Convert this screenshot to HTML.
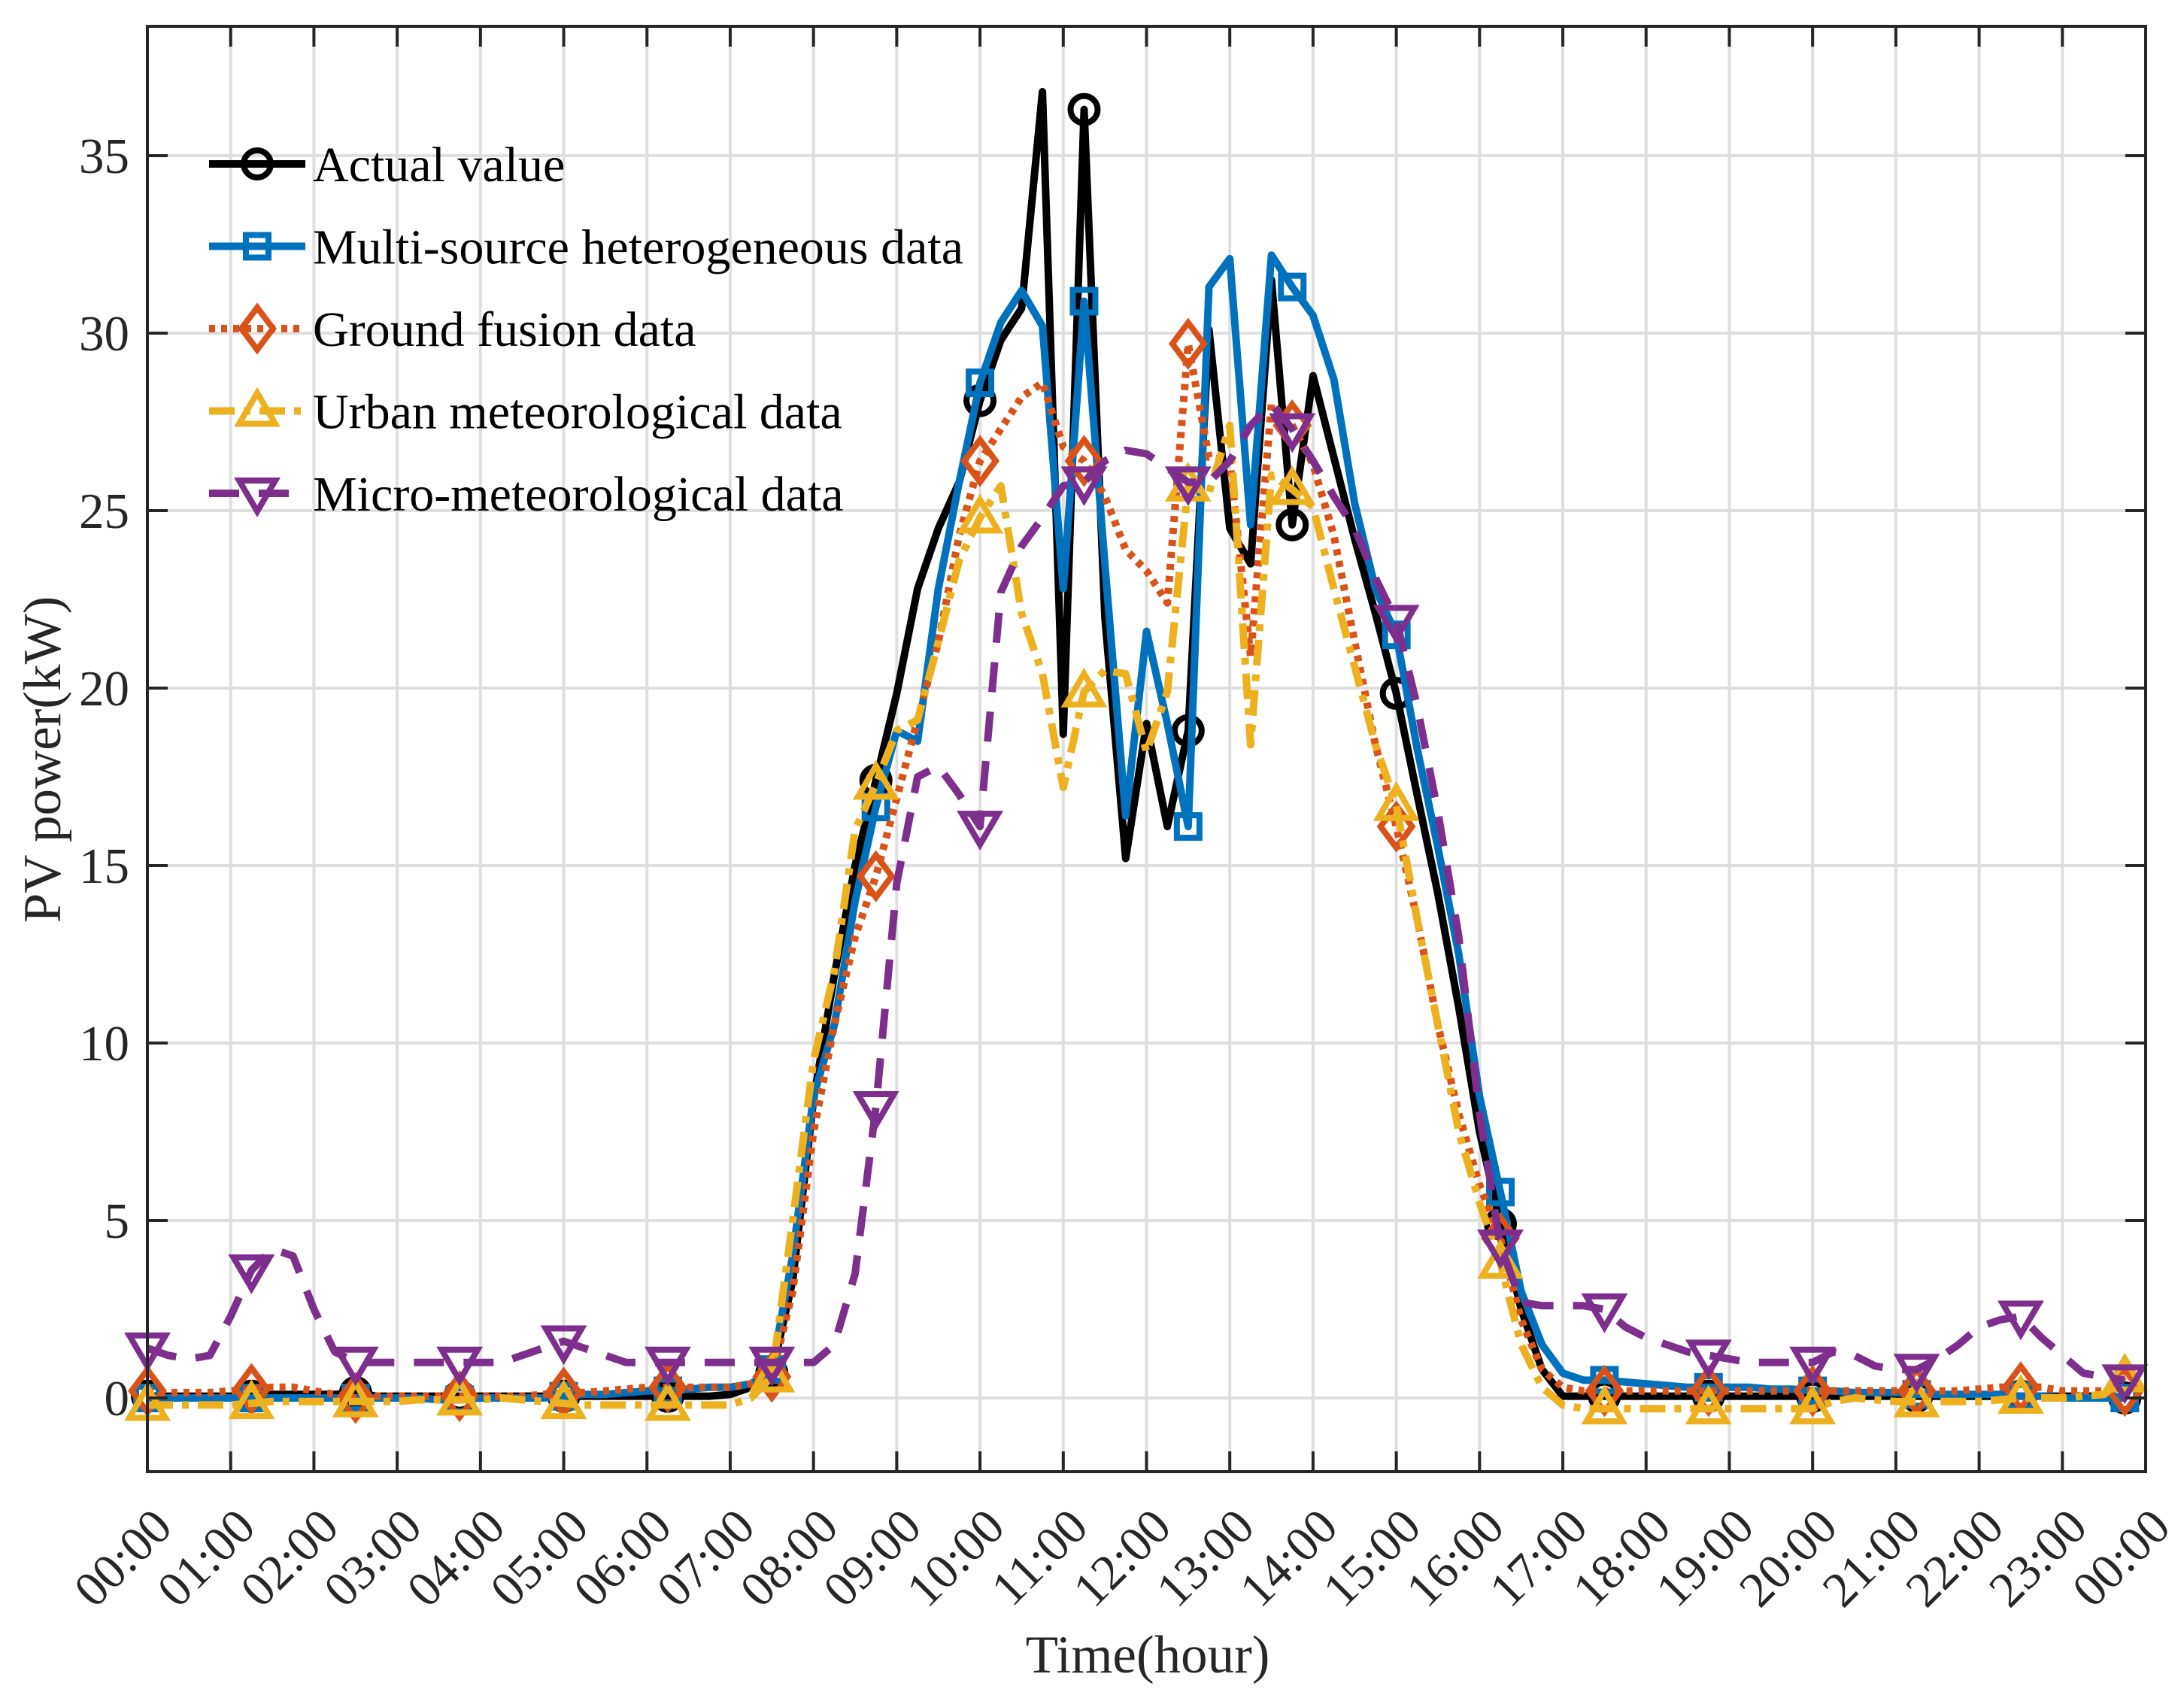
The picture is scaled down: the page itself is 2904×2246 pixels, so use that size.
<!DOCTYPE html>
<html><head><meta charset="utf-8"><style>html,body{margin:0;padding:0;background:#fff}svg{display:block}</style></head>
<body>
<svg id="chart" xmlns="http://www.w3.org/2000/svg" width="2904" height="2246" viewBox="0 0 2904 2246" font-family="'Liberation Serif', serif">
<rect x="0" y="0" width="2904" height="2246" fill="#fff"/>
<g id="grid"></g>
<g id="series"></g>
<g id="axes"></g>
<text x="0" y="0" transform="translate(80,1010) rotate(-90)" text-anchor="middle" font-size="71" fill="#262626">PV power(kW)</text>
<text x="1526" y="2224" text-anchor="middle" font-size="71" fill="#262626">Time(hour)</text>
<g id="legend"></g>
</svg>
<script>
const times = Array.from({length:96},(_,i)=>i*0.25);
const actualValue = [0.05,0.05,0.05,0.05,0.05,0.05,0.1,0.1,0.1,0.1,0.15,0.05,0.05,0.05,0.05,0.05,0.05,0.05,0.05,0.05,0.05,0.05,0.05,0.05,0.05,0.05,0.05,0.05,0.1,0.3,0.7,3.3,8.4,11.9,15,17.4,19.85,22.8,24.5,25.8,28.1,29.8,30.7,36.8,18.7,36.3,22,15.2,19.0,16.1,18.8,30.1,24.5,23.5,31.5,24.6,28.8,26.5,24.2,22.1,19.85,17,14.2,11,7.5,4.9,2.5,0.8,0.05,0.05,0.05,0.05,0.05,0.05,0.05,0.05,0.05,0.05,0.05,0.05,0.05,0.05,0.05,0.05,0.05,0.05,0.05,0.05,0.05,0.05,0.05,0.05,0.05,0.05,0.05,0.0];
const multiSource = [0,0,0,0,0,0,0,0,0,0,0,0,0,0,-0.05,-0.05,0,0,0,0,0.05,0.1,0.1,0.15,0.2,0.2,0.25,0.3,0.3,0.4,0.8,4.0,8.5,10.5,14,16.65,18.8,18.5,22.8,25.8,28.6,30.3,31.2,30.2,22.8,30.9,23.5,16.4,21.6,19.0,16.1,31.3,32.1,24.6,32.2,31.3,30.5,28.7,25.2,22.8,21.5,18.3,15.5,12.5,8.5,5.8,3,1.5,0.7,0.5,0.5,0.45,0.4,0.35,0.3,0.3,0.3,0.3,0.25,0.25,0.2,0.2,0.15,0.15,0.15,0.1,0.1,0.1,0.1,0.1,0.05,0.05,0,0,0,0];
const groundFusion = [0.2,0.15,0.15,0.15,0.2,0.25,0.3,0.3,0.2,0.1,0.0,0.05,0.05,0.05,0.05,0.05,0.05,0.05,0.05,0.1,0.15,0.15,0.2,0.25,0.3,0.3,0.3,0.3,0.3,0.4,0.6,3.0,7.5,10.5,13,14.7,16.9,19.1,21.3,24.3,26.4,27.3,28.2,28.6,26.8,26.4,25.4,23.9,23.3,22.4,29.7,26.5,26.4,20.9,28.0,27.4,26.3,24.3,21.3,18.4,16.1,13.5,10.5,8,6,4.5,2.2,0.8,0.3,0.2,0.2,0.2,0.2,0.2,0.2,0.2,0.2,0.2,0.2,0.2,0.2,0.2,0.2,0.2,0.2,0.2,0.2,0.2,0.25,0.3,0.3,0.3,0.2,0.2,0.2,0.2];
const urbanMet = [-0.2,-0.2,-0.2,-0.2,-0.2,-0.15,-0.1,-0.1,-0.1,-0.1,-0.1,-0.1,-0.1,-0.05,-0.05,-0.05,-0.05,0,-0.05,-0.1,-0.15,-0.2,-0.2,-0.2,-0.2,-0.2,-0.2,-0.2,-0.2,0.0,0.6,5,9.5,12,16,17.3,18.8,19.1,21.3,23.6,24.8,25.7,22.1,20.4,17.2,19.9,20.5,20.4,18.2,19.9,25.7,25.5,27.4,18.4,26.0,25.6,25.1,22.8,20.6,18.4,16.7,13.5,10.5,7.5,5.5,3.8,1.5,0.3,-0.2,-0.3,-0.3,-0.3,-0.3,-0.3,-0.3,-0.3,-0.3,-0.3,-0.3,-0.3,-0.3,-0.1,0,-0.05,-0.1,-0.1,-0.1,-0.1,-0.1,-0.05,0,0,0,0.05,0.1,0.6];
const microMet = [1.4,1.2,1.1,1.2,2.3,3.6,4.2,4.0,2.5,1.3,1.0,1.0,1.0,1.0,1.0,1.0,1.0,1.0,1.2,1.4,1.6,1.4,1.2,1.0,1.0,1.0,1.0,1.0,1.0,1.0,1.0,1.0,1.0,1.5,3.5,8.2,14.5,17.5,17.8,17.0,16.1,22.7,24.0,24.8,25.7,25.8,26.4,26.7,26.6,26.2,25.8,25.8,26.4,27.4,28.0,27.3,26.4,25.4,24.5,23.1,21.9,19.5,16.5,13,8,4.3,2.7,2.6,2.6,2.6,2.5,2.0,1.7,1.5,1.3,1.2,1.1,1.0,1.0,1.0,1.0,1.3,1.2,0.9,0.8,0.8,1.1,1.5,2.0,2.2,2.3,1.7,1.2,0.7,0.6,0.5];
const yTicks = [0,5,10,15,20,25,30,35];
const xTickLabels = ["00:00","01:00","02:00","03:00","04:00","05:00","06:00","07:00","08:00","09:00","10:00","11:00","12:00","13:00","14:00","15:00","16:00","17:00","18:00","19:00","20:00","21:00","22:00","23:00","00:00"];
const seriesNames = ["Actual value","Multi-source heterogeneous data","Ground fusion data","Urban meteorological data","Micro-meteorological data"];

const NS="http://www.w3.org/2000/svg";
const L=196,R=2853,T=35,B=1957;
const xs=t=>L+t*(R-L)/24;
const ys=v=>1859-v*47.2;
function mk(tag,parent,attrs){const e=document.createElementNS(NS,tag);for(const k in attrs)e.setAttribute(k,attrs[k]);parent.appendChild(e);return e;}
const grid=document.getElementById('grid'),axes=document.getElementById('axes'),ser=document.getElementById('series'),leg=document.getElementById('legend');
xTickLabels.forEach((lab,i)=>{
  const x=xs(i);
  if(i>0&&i<24){const g=mk('line',grid,{x1:x,x2:x,y1:T,y2:B,stroke:'#dfdfdf','stroke-width':4});
  
  }
  const t1=mk('line',axes,{x1:x,x2:x,y1:B,y2:B-27,stroke:'#262626','stroke-width':4});
  
  
  const t2=mk('line',axes,{x1:x,x2:x,y1:T,y2:T+27,stroke:'#262626','stroke-width':4});
  
  
  const tx=mk('text',axes,{x:0,y:0,transform:`translate(${x+36},2034) rotate(-45)`,'text-anchor':'end','font-size':66,fill:'#262626'});
  tx.textContent=lab;
  
  
});
yTicks.forEach(v=>{
  const y=ys(v);
  const g=mk('line',grid,{x1:L,x2:R,y1:y,y2:y,stroke:'#dfdfdf','stroke-width':4});
  
  
  const t1=mk('line',axes,{x1:L,x2:L+27,y1:y,y2:y,stroke:'#262626','stroke-width':4});
  
  
  const t2=mk('line',axes,{x1:R,x2:R-27,y1:y,y2:y,stroke:'#262626','stroke-width':4});
  
  
  const tx=mk('text',axes,{x:172,y:y+23,'text-anchor':'end','font-size':67,fill:'#262626'});
  tx.textContent=v;
  
  
});
const box=mk('rect',axes,{x:L,y:T,width:R-L,height:B-T,fill:'none',stroke:'#262626','stroke-width':4});



const styles=[
 {c:'#000000',d:'',m:'circle'},
 {c:'#0072BD',d:'',m:'square'},
 {c:'#D95319',d:'8 8',m:'diamond'},
 {c:'#EDB120',d:'34 12 9 12',m:'up'},
 {c:'#7E2F8E',d:'40 26',m:'down'}];
function marker(parent,m,x,y,c){
  let e;
  if(m==='circle')e=mk('circle',parent,{cx:x,cy:y,r:18,fill:'none',stroke:c,'stroke-width':8});
  else if(m==='square')e=mk('rect',parent,{x:x-15,y:y-15,width:30,height:30,fill:'none',stroke:c,'stroke-width':8});
  else if(m==='diamond')e=mk('polygon',parent,{points:`${x},${y-28} ${x+21},${y} ${x},${y+28} ${x-21},${y}`,fill:'none',stroke:c,'stroke-width':8});
  else if(m==='up')e=mk('polygon',parent,{points:`${x},${y-24} ${x+24},${y+17} ${x-24},${y+17}`,fill:'none',stroke:c,'stroke-width':8});
  else e=mk('polygon',parent,{points:`${x},${y+24} ${x+24},${y-17} ${x-24},${y-17}`,fill:'none',stroke:c,'stroke-width':8});
  return e;
}
const allData=[actualValue,multiSource,groundFusion,urbanMet,microMet];
const keys=['actual-value','multi-source','ground-fusion','urban-meteorological','micro-meteorological'];
allData.forEach((data,si)=>{
  const st=styles[si];
  const g=mk('g',ser,{});
  
  
  const pts=data.map((v,i)=>xs(times[i]).toFixed(1)+','+ys(v).toFixed(1)).join(' ');
  const pl=mk('polyline',g,{points:pts,fill:'none',stroke:st.c,'stroke-width':10,'stroke-linejoin':'round'});
  if(st.d)pl.setAttribute('stroke-dasharray',st.d);
  
  
  data.forEach((v,i)=>{if(i%5===0){
    const e=marker(g,st.m,xs(times[i]),ys(v),st.c);
    
    
  }});
  const ly=218+si*109.5;
  const lg=mk('g',leg,{});
  
  
  const ll=mk('line',lg,{x1:278,x2:406,y1:ly,y2:ly,stroke:st.c,'stroke-width':10});
  if(st.d)ll.setAttribute('stroke-dasharray',st.d);
  marker(lg,st.m,342,ly,st.c);
  const lt=mk('text',lg,{x:416,y:ly+23,'font-size':66,fill:'#000'});
  lt.textContent=seriesNames[si];
  
  
});
</script>
</body></html>
